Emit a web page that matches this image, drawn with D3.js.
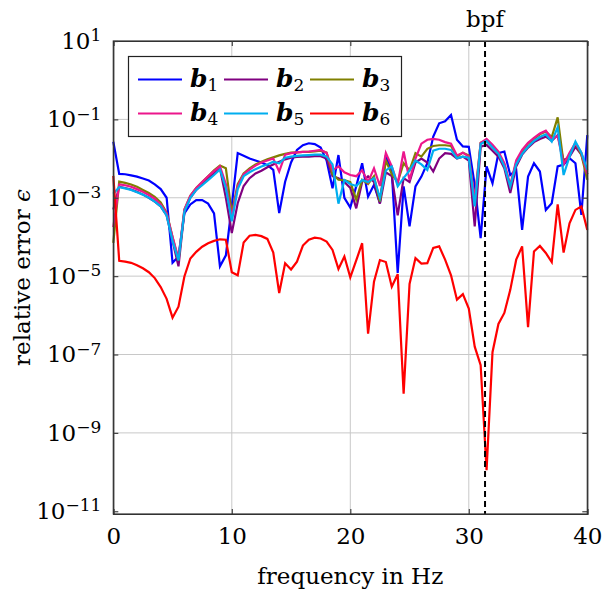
<!DOCTYPE html>
<html>
<head>
<meta charset="utf-8">
<script src="https://cdn.jsdelivr.net/npm/d3@7"></script>
<style>
body { margin: 0; background: #fff; }
svg text { font-family: "DejaVu Serif", serif; fill: #000; }
</style>
</head>
<body>
<svg id="chart"></svg>
<script>
// frequency grid (Hz)
const freq = [0,0.5,1,1.5,2,2.5,3,3.5,4,4.5,5,5.5,6,6.5,7,7.5,8,8.5,9,9.5,
  10,10.5,11,11.5,12,12.5,13,13.5,14,14.5,15,15.5,16,16.5,17,17.5,18,18.5,19,19.5,
  20,20.5,21,21.5,22,22.5,23,23.5,24,24.5,25,25.5,26,26.5,27,27.5,28,28.5,29,29.5,
  30,30.5,31,31.5,32,32.5,33,33.5,34,34.5,35,35.5,36,36.5,37,37.5,38,38.5,39,39.5,40];

// relative error, stored as log10 exponents
const b1 = [-1.57,-2.39,-2.40,-2.43,-2.46,-2.51,-2.56,-2.66,-2.78,-3.00,
 -4.66,-4.50,-3.40,-3.17,-3.06,-3.06,-3.15,-3.40,-4.75,-4.47,
 -3.20,-1.86,-1.93,-2.00,-2.05,-2.10,-2.17,-2.29,-3.39,-2.59,
 -2.10,-1.78,-1.66,-1.61,-1.63,-1.72,-2.05,-2.76,-1.91,-3.00,
 -3.25,-2.71,-2.12,-2.97,-2.67,-3.14,-1.91,-2.33,-4.92,-2.71,
 -3.73,-2.71,-2.46,-2.12,-1.44,-1.10,-1.05,-0.89,-1.52,-1.69,
 -1.70,-2.67,-4.03,-2.20,-2.63,-1.86,-1.82,-2.42,-2.29,-3.82,
 -2.46,-2.12,-2.33,-3.31,-3.14,-2.20,-2.15,-1.99,-2.12,-3.44,
 -1.40];
const b2 = [-3.30,-2.72,-2.75,-2.79,-2.85,-2.92,-3.00,-3.10,-3.22,-3.45,
 -4.10,-4.75,-3.35,-3.00,-2.80,-2.65,-2.50,-2.38,-2.25,-3.00,
 -3.90,-3.14,-2.70,-2.50,-2.38,-2.31,-2.22,-2.15,-2.08,-2.02,
 -1.98,-1.96,-1.95,-1.95,-1.94,-1.94,-2.00,-2.45,-2.50,-2.60,
 -2.75,-3.27,-2.60,-2.45,-2.60,-3.15,-2.35,-2.45,-3.45,-2.50,
 -2.60,-2.10,-2.00,-2.10,-2.33,-2.00,-1.86,-1.88,-2.00,-1.95,
 -2.05,-3.73,-1.70,-1.65,-1.80,-1.95,-2.25,-2.88,-2.20,-1.90,
 -1.72,-1.58,-1.50,-1.44,-1.55,-1.40,-2.05,-1.95,-1.70,-1.90,
 -2.40];
const b3 = [-4.15,-2.59,-2.62,-2.66,-2.72,-2.80,-2.88,-2.98,-3.12,-3.38,
 -4.00,-4.60,-3.30,-2.95,-2.75,-2.60,-2.45,-2.30,-2.18,-2.25,
 -3.40,-2.65,-2.38,-2.25,-2.15,-2.08,-2.02,-1.97,-1.92,-1.88,
 -1.85,-1.84,-1.83,-1.83,-1.82,-1.80,-1.85,-2.40,-2.54,-2.55,
 -2.60,-3.05,-2.54,-2.65,-2.45,-3.10,-2.05,-2.40,-2.60,-2.12,
 -2.30,-1.86,-1.95,-1.75,-1.68,-1.66,-1.66,-1.68,-1.95,-1.85,
 -1.92,-3.10,-1.60,-1.55,-1.70,-1.86,-2.15,-2.70,-2.10,-1.82,
 -1.62,-1.50,-1.38,-1.31,-1.45,-0.95,-2.12,-1.90,-1.60,-1.90,
 -2.54];
const b4 = [-3.75,-2.66,-2.68,-2.72,-2.78,-2.85,-2.93,-3.03,-3.17,-3.40,
 -4.00,-4.55,-3.30,-2.95,-2.75,-2.60,-2.45,-2.32,-2.20,-2.65,
 -3.50,-2.70,-2.40,-2.28,-2.18,-2.10,-2.05,-2.00,-2.33,-1.90,
 -1.86,-1.84,-1.83,-1.82,-1.80,-1.78,-1.85,-2.30,-2.20,-2.35,
 -2.42,-2.45,-2.30,-2.60,-2.25,-2.70,-1.86,-2.20,-2.65,-1.82,
 -2.55,-2.00,-1.62,-1.52,-1.50,-1.52,-1.58,-1.62,-1.92,-1.85,
 -1.95,-3.05,-1.60,-1.50,-1.65,-1.82,-2.12,-2.68,-2.05,-1.78,
 -1.60,-1.47,-1.36,-1.29,-1.50,-1.42,-2.15,-1.85,-1.60,-1.85,
 -2.40];
const b5 = [-2.90,-2.73,-2.76,-2.80,-2.86,-2.92,-3.00,-3.10,-3.22,-3.45,
 -4.10,-4.60,-3.35,-3.00,-2.80,-2.68,-2.55,-2.42,-2.28,-2.75,
 -3.60,-2.78,-2.45,-2.35,-2.27,-2.20,-2.15,-2.08,-2.12,-1.98,
 -1.95,-1.93,-1.92,-1.91,-1.90,-1.90,-1.95,-2.15,-3.15,-2.55,
 -2.65,-2.70,-2.55,-2.60,-2.50,-3.00,-2.30,-2.20,-2.71,-2.50,
 -2.30,-2.05,-2.15,-2.29,-1.80,-1.75,-1.75,-1.78,-1.99,-1.95,
 -1.98,-3.22,-1.63,-1.55,-1.72,-1.88,-2.20,-2.71,-2.15,-1.88,
 -1.70,-1.55,-1.45,-1.38,-1.57,-1.20,-2.42,-1.95,-1.57,-1.85,
 -2.29];
const b6 = [-2.44,-4.61,-4.63,-4.66,-4.72,-4.80,-4.90,-5.05,-5.28,-5.58,
 -6.06,-5.78,-5.01,-4.55,-4.38,-4.25,-4.16,-4.10,-4.06,-4.07,
 -4.90,-4.98,-4.14,-3.97,-3.95,-3.98,-4.05,-4.40,-5.43,-4.67,
 -4.83,-4.63,-4.22,-4.07,-4.02,-4.04,-4.12,-4.33,-4.82,-4.50,
 -5.03,-4.60,-4.16,-6.47,-5.14,-4.59,-4.64,-5.27,-4.95,-8.00,
 -5.20,-4.54,-4.68,-4.67,-4.28,-4.24,-4.58,-4.98,-5.60,-5.46,
 -5.83,-6.80,-7.27,-9.95,-6.94,-6.22,-5.94,-5.35,-4.58,-4.24,
 -6.30,-4.37,-4.23,-4.41,-4.64,-3.17,-4.40,-3.65,-3.31,-3.22,
 -3.82];

const seriesNames = ["1","2","3","4","5","6"];
const seriesColors = ["#0000ff","#800080","#808000","#ec168c","#00aeef","#ff0000"];
const allSeries = [b1,b2,b3,b4,b5,b6];

const xTicks = [0,10,20,30,40];
const yTickExp = [1,-1,-3,-5,-7,-9,-11];
const bpf = 31.37;

const canvasWidth = 615;
const canvasHeight = 597;
const plotLeft = 113.3, plotRight = 587.3, plotTop = 41, plotBottom = 514;
const fontFam = "DejaVu Serif";

var svg = d3.select("#chart")
    .attr("width", canvasWidth)
    .attr("height", canvasHeight);

var xScaler = d3.scaleLinear().domain([0,40]).range([plotLeft, plotRight]);
var yScaler = d3.scaleLog().domain([Math.pow(10,-11.07), 10]).range([plotBottom, plotTop]);

// grid
var grid = svg.append("g");
grid.selectAll("line.gx").data([10,20,30]).enter().append("line")
    .attr("x1", d => xScaler(d)).attr("x2", d => xScaler(d))
    .attr("y1", plotTop).attr("y2", plotBottom)
    .style("stroke", "#c8c8c8").style("stroke-width", 1);
grid.selectAll("line.gy").data(yTickExp.slice(1, 6)).enter().append("line")
    .attr("x1", plotLeft).attr("x2", plotRight)
    .attr("y1", d => yScaler(Math.pow(10,d))).attr("y2", d => yScaler(Math.pow(10,d)))
    .style("stroke", "#c8c8c8").style("stroke-width", 1);

// data lines
var line = d3.line()
    .x((d,i) => xScaler(freq[i]))
    .y(d => yScaler(Math.pow(10,d)));

svg.append("g").selectAll("path").data(allSeries).enter().append("path")
    .attr("d", d => line(d))
    .style("fill", "none")
    .style("stroke", (d,i) => seriesColors[i])
    .style("stroke-width", 2.2);

// bpf marker
svg.append("line")
    .attr("x1", xScaler(bpf)).attr("x2", xScaler(bpf))
    .attr("y1", plotTop).attr("y2", plotBottom)
    .style("stroke", "#000").style("stroke-width", 2)
    .style("stroke-dasharray", "6,4");
svg.append("text")
    .attr("x", xScaler(bpf)).attr("y", 27)
    .attr("text-anchor", "middle")
    .style("font-family", fontFam).style("font-size", "23px")
    .text("bpf");

// axes
var xAxis = d3.axisBottom(xScaler).tickValues(xTicks).tickSize(-5).tickPadding(14);
var gx = svg.append("g").attr("transform", "translate(0," + plotBottom + ")").call(xAxis);
gx.selectAll("text").style("font-size", "23px").style("font-family", fontFam);
svg.append("g").attr("transform", "translate(0," + plotTop + ")")
    .call(d3.axisTop(xScaler).tickValues(xTicks).tickSize(-5).tickFormat(""));

var yAxis = d3.axisLeft(yScaler).tickValues(yTickExp.map(e => Math.pow(10,e)))
    .tickSize(-5).tickPadding(12).tickFormat("");
var gy = svg.append("g").attr("transform", "translate(" + plotLeft + ",0)").call(yAxis);
gy.selectAll(".tick text").each(function(d){
    var t = d3.select(this).attr("text-anchor", "end")
        .style("font-size", "23px").style("font-family", fontFam);
    t.append("tspan").text("10");
    t.append("tspan").attr("dy", "-0.45em").style("font-size", "17px")
        .text(String(Math.round(Math.log10(d))).replace("-", "\u2212"));
});
svg.append("g").attr("transform", "translate(" + plotRight + ",0)")
    .call(d3.axisRight(yScaler).tickValues(yTickExp.map(e => Math.pow(10,e))).tickSize(-5).tickFormat(""));

svg.selectAll(".domain").style("stroke", "#333").style("stroke-width", 1.2);
svg.selectAll(".tick line").style("stroke", "#444").style("stroke-width", 1.2);

// frame
svg.append("rect")
    .attr("x", plotLeft).attr("y", plotTop)
    .attr("width", plotRight - plotLeft).attr("height", plotBottom - plotTop)
    .style("fill", "none").style("stroke", "#333").style("stroke-width", 1.2);

// axis labels
svg.append("text")
    .attr("x", (plotLeft + plotRight) / 2).attr("y", 584)
    .attr("text-anchor", "middle")
    .style("font-family", fontFam).style("font-size", "23px")
    .text("frequency in Hz");
var yl = svg.append("text")
    .attr("transform", "translate(30," + ((plotTop + plotBottom) / 2) + ") rotate(-90)")
    .attr("text-anchor", "middle")
    .style("font-family", fontFam).style("font-size", "23px");
yl.append("tspan").text("relative error ");
yl.append("tspan").style("font-style", "italic").text("\u03f5");

// legend
var legend = svg.append("g");
legend.append("rect")
    .attr("x", 128.5).attr("y", 56.5).attr("width", 273).attr("height", 80)
    .style("fill", "#fff").style("stroke", "#222").style("stroke-width", 1.2);
var items = legend.selectAll("g.item").data(seriesNames).enter().append("g")
    .attr("transform", (d,i) => "translate(" + (138 + (i % 3) * 86) + "," + (79.5 + Math.floor(i / 3) * 34) + ")");
items.append("line")
    .attr("x1", 0).attr("x2", 44).attr("y1", 0).attr("y2", 0)
    .style("stroke", (d,i) => seriesColors[i]).style("stroke-width", 2.2);
var lt = items.append("text").attr("x", 52).attr("y", 7)
    .style("font-family", fontFam).style("font-size", "25px");
lt.append("tspan").style("font-weight", "bold").style("font-style", "italic").text("b");
lt.append("tspan").attr("dy", 4).style("font-size", "17px").text(d => d);
</script>
</body>
</html>
